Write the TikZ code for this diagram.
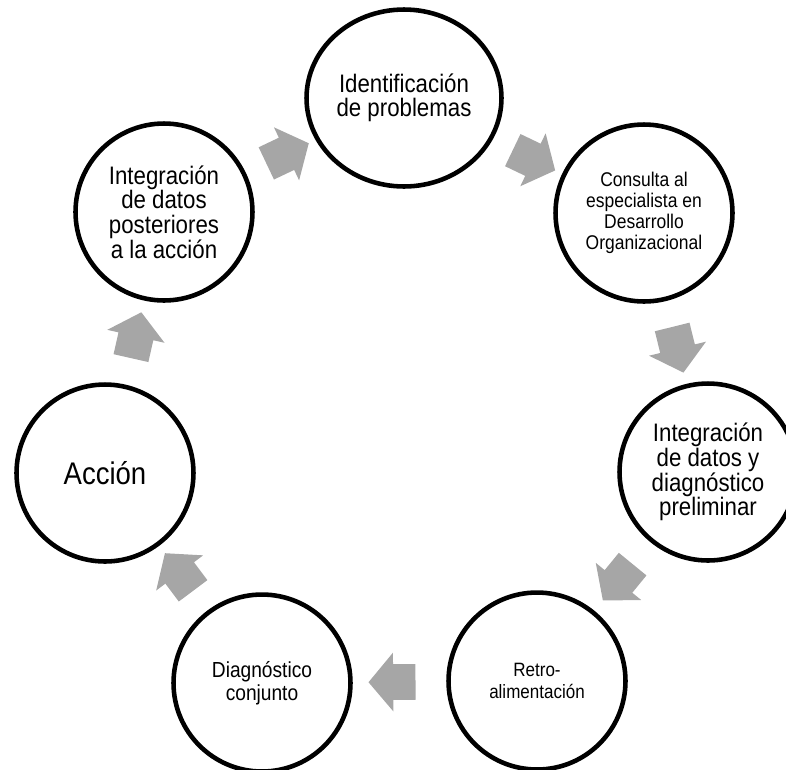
\documentclass[tikz,border=0pt]{standalone}
\usepackage{fontspec}
\setmainfont{Liberation Sans}[FakeStretch=0.88]
\usetikzlibrary{shapes.geometric,shapes.arrows}
\definecolor{flechagris}{RGB}{166,166,166}
\tikzset{
etapa/.style={circle,draw=black,line width=2.6pt,minimum size=3.54cm,inner sep=0pt,align=center},
flecha/.style={single arrow,fill=flechagris,draw=none,inner xsep=0pt,inner ysep=0.35cm,
  minimum height=0.94cm,minimum width=1.16cm,single arrow head extend=0.23cm,
  single arrow tip angle=100,sloped,allow upside down}
}
\begin{document}
\begin{tikzpicture}[x=0.02cm,y=0.02cm]
\useasboundingbox (-403,-364) rectangle (383,405);

\node[etapa,ellipse,minimum width=3.9cm,font=\fontsize{14.4}{14}\selectfont] (ident) at (1,307)
{Identificación\\de problemas};
\node[etapa,font=\fontsize{11.3}{12}\selectfont] (consulta) at (241,192)
{Consulta al\\especialista en\\Desarrollo\\Organizacional};
\node[etapa,font=\fontsize{14.4}{14}\selectfont] (prelim) at (305,-67)
{Integración\\de datos y\\diagnóstico\\preliminar};
\node[etapa,font=\fontsize{11}{12.3}\selectfont] (retro) at (134,-276)
{Retro-\\alimentación};
\node[etapa,font=\fontsize{12.4}{13}\selectfont] (conjunto) at (-141,-278)
{Diagnóstico\\conjunto};
\node[etapa,font=\fontsize{17.8}{18}\selectfont] (accion) at (-298,-68)
{Acción};
\node[etapa,font=\fontsize{14.4}{14}\selectfont] (posterior) at (-239,193)
{Integración\\de datos\\posteriores\\a la acción};

\path (ident) -- node[flecha] {} (consulta);
\path (consulta) -- node[flecha] {} (prelim);
\path (prelim) -- node[flecha] {} (retro);
\path (retro) -- node[flecha] {} (conjunto);
\path (conjunto) -- node[flecha] {} (accion);
\path (accion) -- node[flecha] {} (posterior);
\path (posterior) -- node[flecha] {} (ident);
\end{tikzpicture}
\end{document}
